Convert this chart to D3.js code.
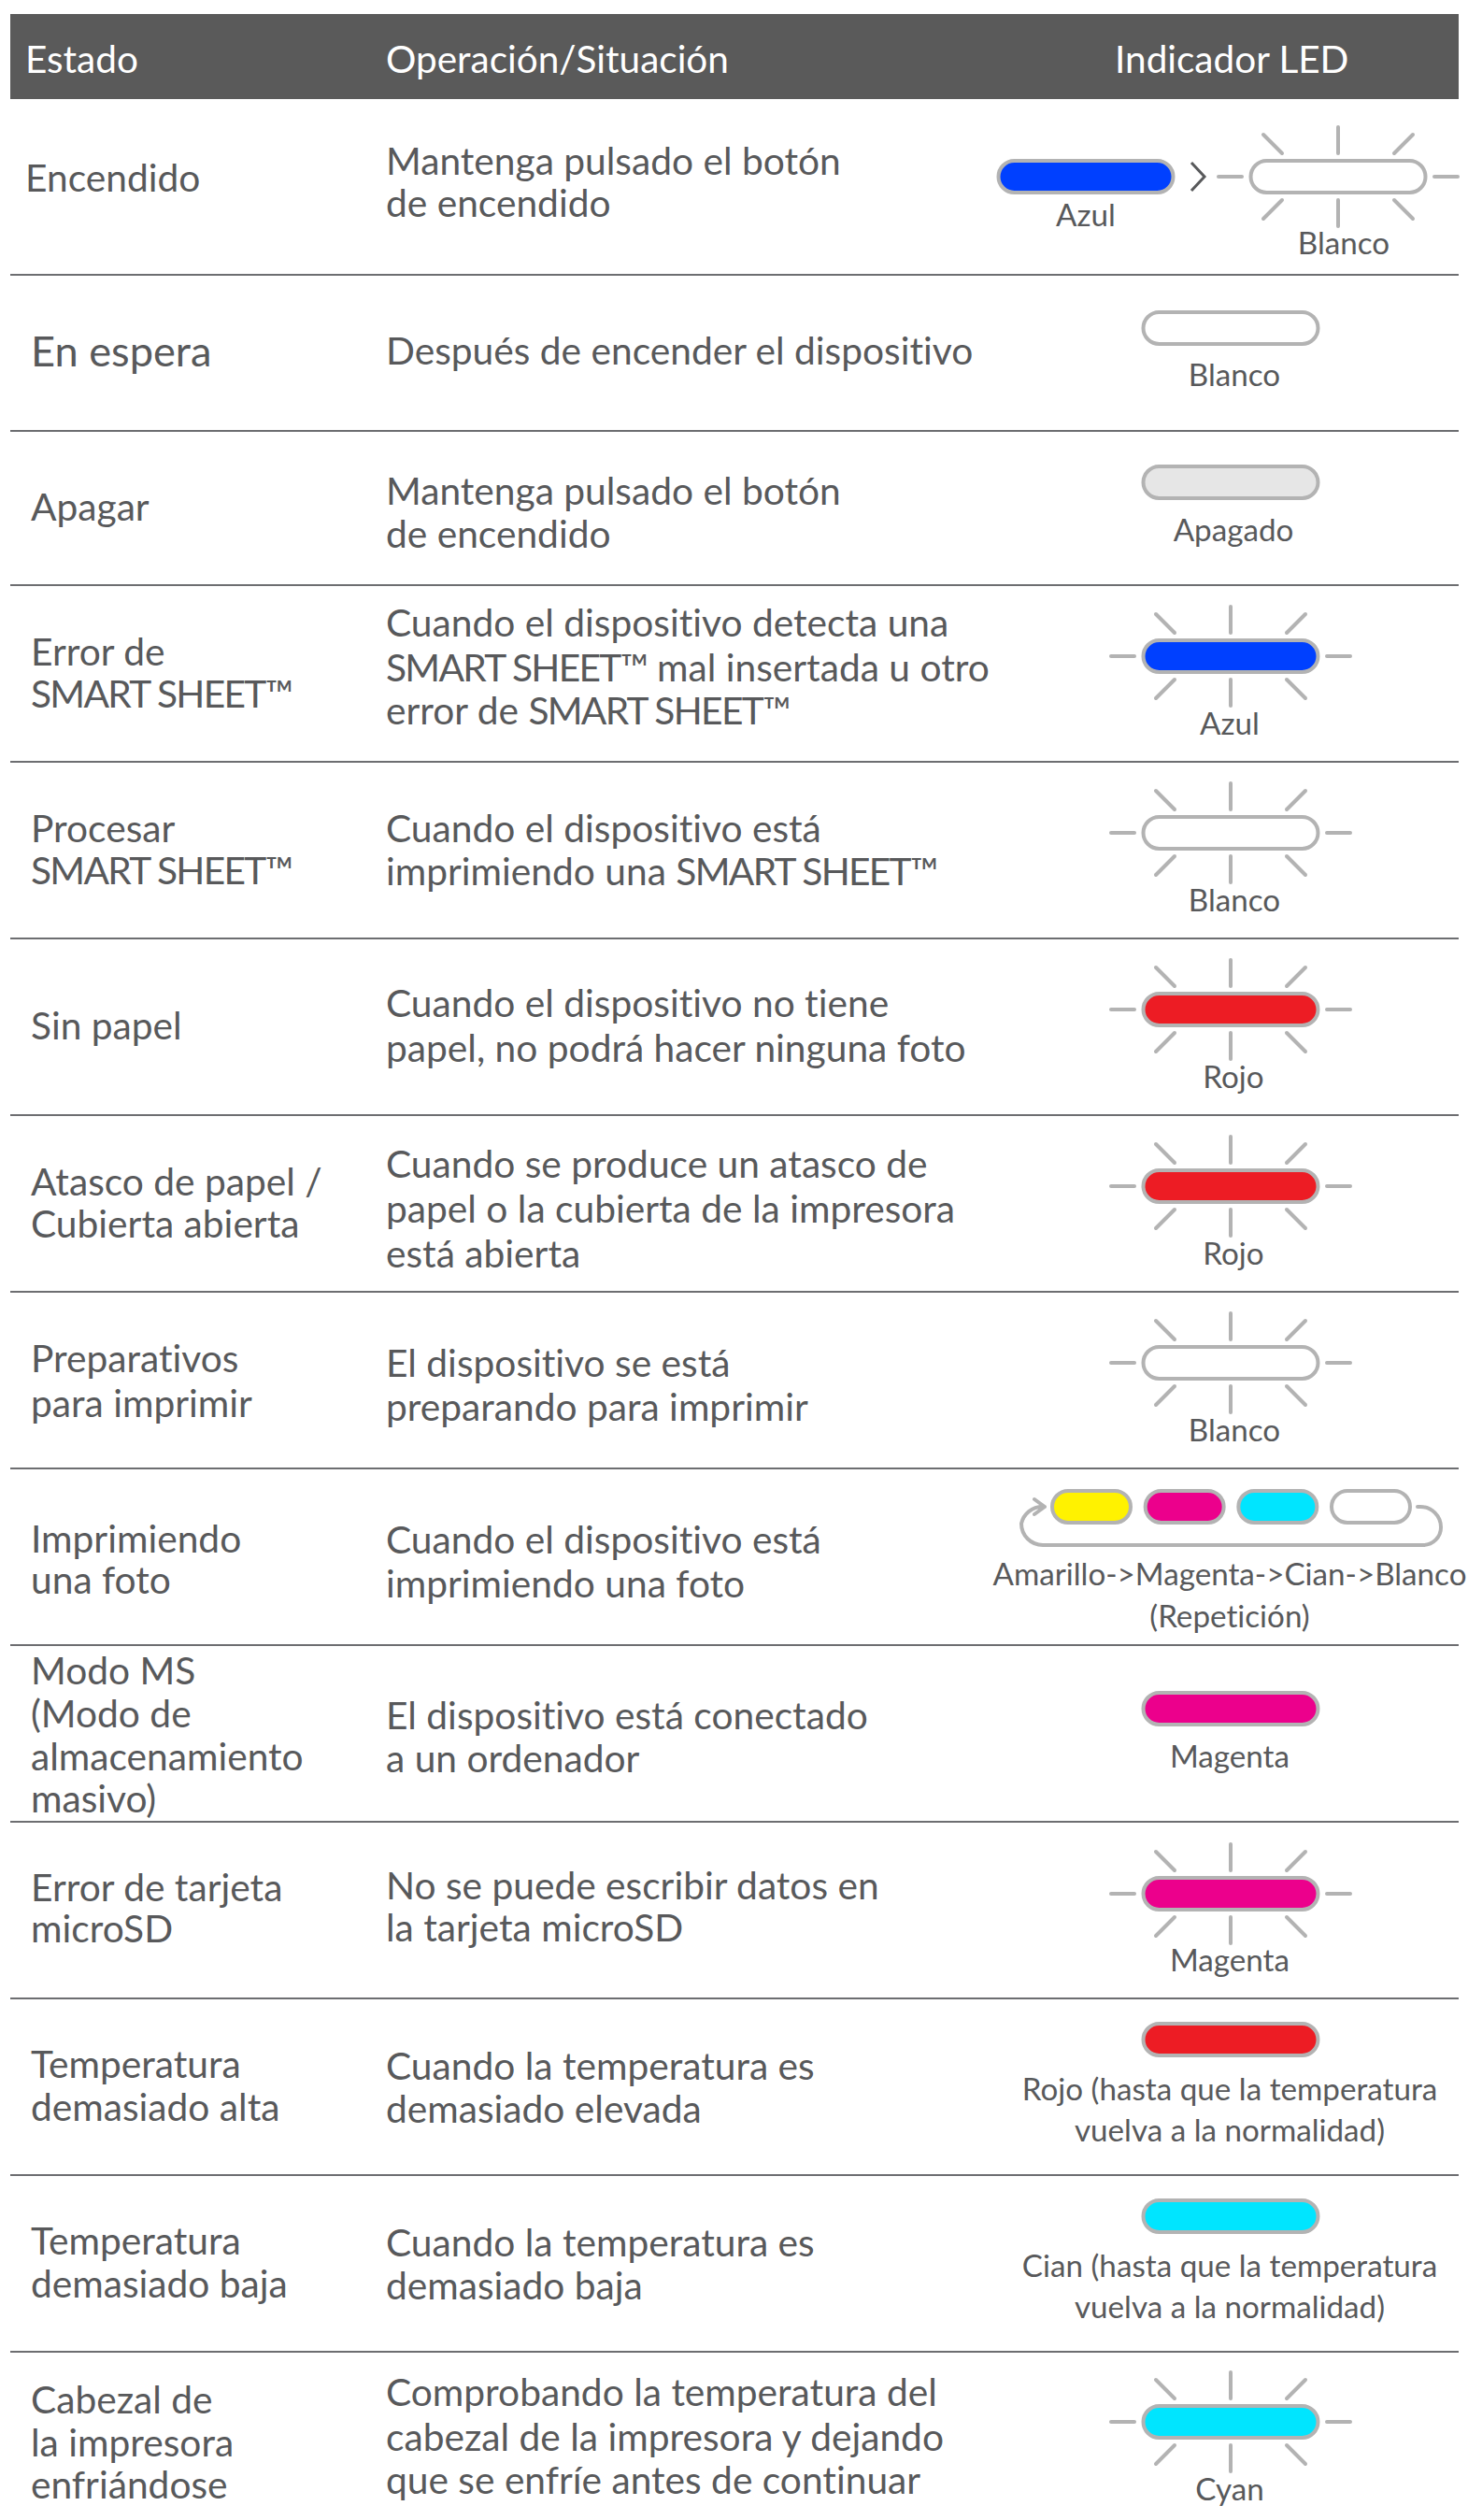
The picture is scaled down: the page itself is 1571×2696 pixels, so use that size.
<!DOCTYPE html>
<html><head><meta charset="utf-8">
<script src="https://cdn.jsdelivr.net/npm/d3@7/dist/d3.min.js"></script>
<style>html,body{margin:0;padding:0;background:#fff}svg{display:block}text{font-family:Lato,"Open Sans",sans-serif;font-variant-ligatures:none}</style>
</head><body><div id="c"></div>
<script>
// ---------- content ----------
const headers = ["Estado","Operación/Situación","Indicador LED"];
const states = [["Encendido"],["En espera"],["Apagar"],["Error de","SMART SHEET™"],["Procesar","SMART SHEET™"],["Sin papel"],["Atasco de papel /","Cubierta abierta"],["Preparativos","para imprimir"],["Imprimiendo","una foto"],["Modo MS","(Modo de","almacenamiento","masivo)"],["Error de tarjeta","microSD"],["Temperatura","demasiado alta"],["Temperatura","demasiado baja"],["Cabezal de","la impresora","enfriándose"]];
const actions = [["Mantenga pulsado el botón","de encendido"],["Después de encender el dispositivo"],["Mantenga pulsado el botón","de encendido"],["Cuando el dispositivo detecta una","SMART SHEET™ mal insertada u otro","error de SMART SHEET™"],["Cuando el dispositivo está","imprimiendo una SMART SHEET™"],["Cuando el dispositivo no tiene","papel, no podrá hacer ninguna foto"],["Cuando se produce un atasco de","papel o la cubierta de la impresora","está abierta"],["El dispositivo se está","preparando para imprimir"],["Cuando el dispositivo está","imprimiendo una foto"],["El dispositivo está conectado","a un ordenador"],["No se puede escribir datos en","la tarjeta microSD"],["Cuando la temperatura es","demasiado elevada"],["Cuando la temperatura es","demasiado baja"],["Comprobando la temperatura del","cabezal de la impresora y dejando","que se enfríe antes de continuar"]];
const ledNames = ["blue","white","red","magenta","cyan","yellow","off"];
const ledHex = ["#0040ff","#ffffff","#ed1c24","#ec008c","#00e5ff","#fff200","#e6e6e6"];
const ledColor = ["blue","white","off","blue","white","red","red","white","-","magenta","magenta","red","cyan","cyan"];
const ledBlink = [false,false,false,true,true,true,true,true,false,false,true,false,false,true];
const ledLabels = [["Azul"],["Blanco"],["Apagado"],["Azul"],["Blanco"],["Rojo"],["Rojo"],["Blanco"],["Amarillo->Magenta->Cian->Blanco","(Repetición)"],["Magenta"],["Magenta"],["Rojo (hasta que la temperatura","vuelva a la normalidad)"],["Cian (hasta que la temperatura","vuelva a la normalidad)"],["Cyan"]];
const firstRowSecondLabel = ["Blanco"];
const cycleColors = ["yellow","magenta","cyan","white"];

// ---------- layout ----------
const W=1571,H=2696,L=11,R=1561,TXT="#58595b",GREY="#b3b3b3";
const ruleY=[294,461,626,815,1004,1193,1382,1571,1760,1949,2138,2327,2516];
const stateY=[[205],[392],[557],[712,757],[901,946],[1112],[1279,1324],[1468,1516],[1661,1705],[1802,1848,1894,1939],[2034,2078],[2223,2269],[2412,2458],[2582,2628,2673]];
const actionY=[[187,232],[390],[540,586],[681,729,775],[901,947],[1088,1136],[1260,1308,1356],[1473,1520],[1662,1709],[1850,1896],[2032,2077],[2225,2271],[2414,2460],[2574,2622,2668]];
const ledY=[189,351,516,702,891,1080,1269,1458,1612,1828,2026,2182,2371,2591];
const ledX=[1162,1317,1317,1317,1317,1317,1317,1317,null,1317,1317,1317,1317,1317];
const labelX=[1162,1321,1320,1316,1321,1320,1320,1321,1316,1316,1316,1316,1316,1316];
const labelY=[[242],[413],[579],[786],[975],[1164],[1353],[1542],[1696,1741],[1891],[2109],[2247,2291],[2436,2480],[2675]];
const PW=191,PH=38;
const color=d3.scaleOrdinal().domain(ledNames).range(ledHex);
const svg=d3.select("#c").append("svg").attr("width",W).attr("height",H).attr("viewBox",[0,0,W,H]);
svg.append("rect").attr("width",W).attr("height",H).attr("fill","#fff");
svg.append("rect").attr("x",L).attr("y",15).attr("width",R-L).attr("height",91).attr("fill","#5a5a5a");
svg.selectAll("text.h").data(headers).join("text").attr("class","h")
  .attr("x",(d,i)=>[27,413,1193][i]).attr("y",78).attr("font-size",40.5).attr("fill","#fff").text(d=>d);
svg.selectAll("line.rule").data(ruleY).join("line").attr("class","rule")
  .attr("x1",L).attr("x2",R).attr("y1",d=>d).attr("y2",d=>d).attr("stroke","#6d6e71").attr("stroke-width",2);

function lines(cls,rows,ys,xf,size,anchor){
  svg.selectAll("g."+cls).data(rows).join("g").attr("class",cls)
    .selectAll("text").data((r,i)=>r.map((t,j)=>({t,i,j}))).join("text")
    .attr("x",d=>xf(d.i)).attr("y",d=>ys[d.i][d.j]).attr("text-anchor",anchor)
    .attr("font-size",d=>typeof size==="function"?size(d.i):size).attr("fill",TXT)
    .each(function(d){
      // the reference's capitals run narrower than this font's
      d.t.split(/(SMART SHEET™)/).filter(Boolean).forEach(part=>{
        d3.select(this).append("tspan").style("letter-spacing",part==="SMART SHEET™"?"-1.7px":null).text(part);
      });
    });
}
lines("state",states,stateY,i=>i===0?27:33,i=>i===1?45.2:40.7,"start");
lines("action",actions,actionY,()=>413,40.7,"start");
lines("lab",ledLabels,labelY,i=>labelX[i],33.2,"middle");
svg.append("text").attr("x",1438).attr("y",272).attr("text-anchor","middle").attr("font-size",33.2).attr("fill",TXT).text(firstRowSecondLabel[0]);

function pill(g,cx,cy,w,fill){
  g.append("rect").attr("x",cx-w/2+2).attr("y",cy-PH/2+2).attr("width",w-4).attr("height",PH-4)
   .attr("rx",(PH-4)/2).attr("fill",fill).attr("stroke",GREY).attr("stroke-width",4);
}
const rays=[[0,-25,0,-53],[0,25,0,53],[-60,-25,-80,-45],[60,-25,80,-45],[-60,25,-80,45],[60,25,80,45],[-103,0,-128,0],[103,0,128,0]];
function blink(g,cx,cy){
  g.selectAll("line.ray").data(rays).join("line").attr("class","ray")
   .attr("x1",d=>cx+d[0]).attr("y1",d=>cy+d[1]).attr("x2",d=>cx+d[2]).attr("y2",d=>cy+d[3])
   .attr("stroke",GREY).attr("stroke-width",4).attr("stroke-linecap","round");
}
const leds=svg.append("g");
ledColor.forEach((c,i)=>{
  if(ledX[i]===null) return;
  const g=leds.append("g");
  if(ledBlink[i]) blink(g,ledX[i],ledY[i]);
  pill(g,ledX[i],ledY[i],PW,color(c));
});
// extra steps of the first row
const g2=leds.append("g");
blink(g2,1432,189); pill(g2,1432,189,PW,color("white"));
g2.append("path").attr("d",d3.line()([[1275,174],[1289,189],[1275,204]])).attr("fill","none").attr("stroke",TXT).attr("stroke-width",3);
// cycle row
const g3=leds.append("g");
const cx=d3.scalePoint().domain(cycleColors).range([1168,1467]);
cycleColors.forEach(c=>pill(g3,cx(c),1612,88,color(c)));
g3.append("path").attr("fill","none").attr("stroke",GREY).attr("stroke-width",4).attr("stroke-linecap","round").attr("stroke-linejoin","round")
 .attr("d","M1517 1612 H1520 A22 22 0 0 1 1542 1634 A19 19 0 0 1 1523 1653 H1116 A23 23 0 0 1 1093 1630 A23 23 0 0 1 1116 1612 H1118 M1107 1604 L1118 1612 L1107 1620");
</script></body></html>
